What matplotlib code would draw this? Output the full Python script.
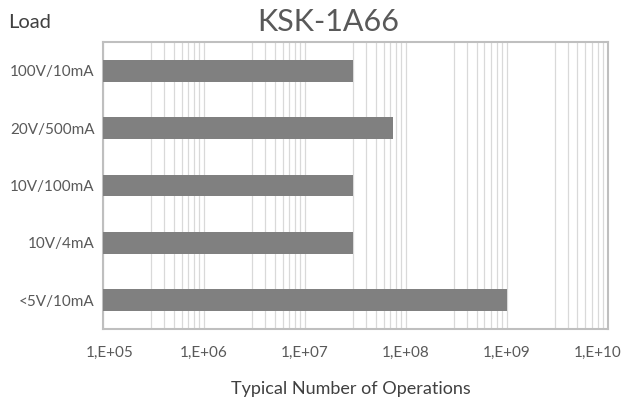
import matplotlib
matplotlib.use("Agg")
import matplotlib.pyplot as plt
import matplotlib.transforms as mtrans
from matplotlib.ticker import LogLocator, FixedLocator, NullFormatter, FixedFormatter

plt.rcParams['font.family'] = ['Lato', 'DejaVu Sans']

loads = ["100V/10mA", "20V/500mA", "10V/100mA", "10V/4mA", "<5V/10mA"]
operations = [3.0e7, 7.5e7, 3.0e7, 3.0e7, 1.0e9]
xtick_vals = [1e5, 1e6, 1e7, 1e8, 1e9, 1e10]
xtick_labels = ["1,E+05", "1,E+06", "1,E+07", "1,E+08", "1,E+09", "1,E+10"]
title = "KSK-1A66"
xlabel = "Typical Number of Operations"
ylabel = "Load"

fig = plt.figure(figsize=(6.25, 4.09), dpi=100)
ax = fig.add_axes([0.1648, 0.1956, 0.8078, 0.7014])

ypos = list(range(len(loads)))
ax.barh(ypos, operations, height=0.38, color="#808080", left=1e5, zorder=3)
ax.set_xscale("log")
ax.set_xlim(1e5, 1e10)
ax.set_ylim(len(loads) - 0.5, -0.5)

ax.xaxis.set_major_locator(FixedLocator(xtick_vals))
ax.xaxis.set_major_formatter(FixedFormatter(xtick_labels))
ax.xaxis.set_minor_locator(LogLocator(base=10, subs=(3, 4, 5, 6, 7, 8, 9)))
ax.xaxis.set_minor_formatter(NullFormatter())
ax.grid(True, which="both", axis="x", color="#D9D9D9", linewidth=0.9, zorder=0)

ax.set_yticks(ypos)
ax.set_yticklabels(loads)
ax.tick_params(axis="both", which="both", length=0, colors="#595959")
ax.tick_params(axis="x", pad=12, labelsize=11)
ax.tick_params(axis="y", pad=6, labelsize=11)

# Excel nudges the edge labels inward
labels = ax.get_xticklabels()
labels[0].set_transform(labels[0].get_transform() + mtrans.ScaledTranslation(0.07, 0, fig.dpi_scale_trans))
labels[-1].set_transform(labels[-1].get_transform() + mtrans.ScaledTranslation(-0.10, 0, fig.dpi_scale_trans))

for s in ax.spines.values():
    s.set_color("#BFBFBF")
    s.set_linewidth(1.5)

fig.text(0.525, 0.945, title, ha="center", va="center", fontsize=22, color="#595959")
fig.text(0.013, 0.945, ylabel, ha="left", va="center", fontsize=14.5, color="#404040")
fig.text(0.561, 0.05, xlabel, ha="center", va="center", fontsize=13, color="#404040")

fig.savefig("out.png", dpi=100, facecolor="white")
